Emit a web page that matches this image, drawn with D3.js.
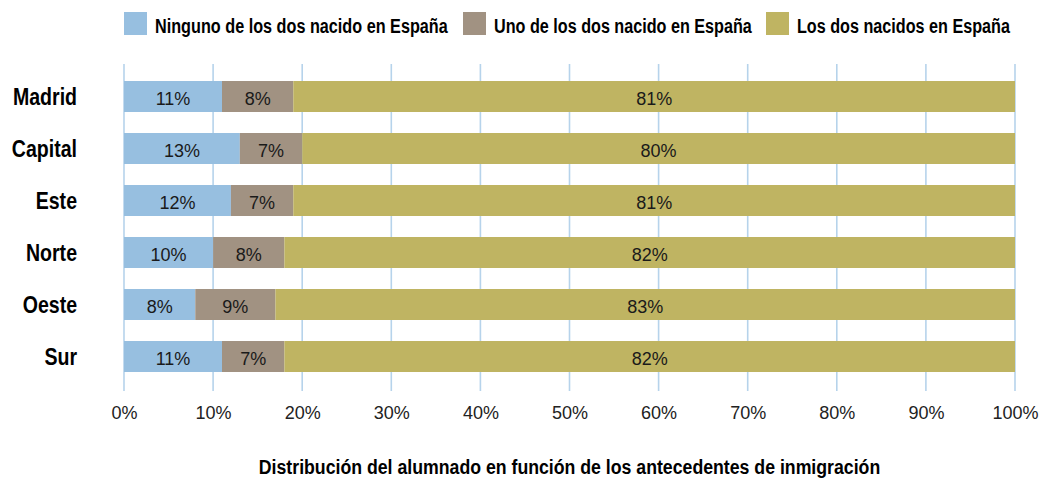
<!DOCTYPE html>
<html>
<head>
<meta charset="utf-8">
<script src="https://cdn.jsdelivr.net/npm/d3@7/dist/d3.min.js"></script>
<style>
  html, body { margin: 0; padding: 0; background: #ffffff; }
  svg { display: block; }
  text { font-family: "Liberation Sans", Arial, Helvetica, sans-serif; }
</style>
</head>
<body>
<svg id="chart" width="1040" height="479"></svg>
<script>
// Regions shown on the vertical axis
const regions = ["Madrid", "Capital", "Este", "Norte", "Oeste", "Sur"];

// Share of pupils (%) by parents' place of birth
const ningunoNacido = [11, 13, 12, 10, 8, 11];
const unoNacido     = [8, 7, 7, 8, 9, 7];
const losDosNacidos = [81, 80, 81, 82, 83, 82];

const seriesNames = [
  "Ninguno de los dos nacido en España",
  "Uno de los dos nacido en España",
  "Los dos nacidos en España"
];
const seriesColors = ["#97bfe0", "#a19282", "#bfb462"];

const xTicks = [0, 10, 20, 30, 40, 50, 60, 70, 80, 90, 100];
const axisTitle = "Distribución del alumnado en función de los antecedentes de inmigración";

const svg = d3.select("#chart");

const x = d3.scaleLinear().domain([0, 100]).range([124, 1015]);
const y = d3.scaleBand().domain(regions).range([70.6, 382.4])
  .paddingInner(0.404).paddingOuter(0.2);

// Squeeze a text horizontally so it spans the given width (condensed look)
function condense(sel, px, py, width) {
  sel.each(function (d, i) {
    const t = d3.select(this);
    const w = typeof width === "function" ? width(d, i) : width;
    const natural = this.getComputedTextLength();
    const k = natural > 0 ? w / natural : 1;
    const tx = typeof px === "function" ? px(d, i) : px;
    const ty = typeof py === "function" ? py(d, i) : py;
    t.attr("transform", `translate(${tx},${ty}) scale(${k},1)`);
  });
}

// Stacked layout built from the series arrays
const rows = regions.map((r, i) => ({
  region: r,
  s0: ningunoNacido[i],
  s1: unoNacido[i],
  s2: losDosNacidos[i]
}));
const stack = d3.stack().keys(["s0", "s1", "s2"]);
const layers = stack(rows);

// Vertical gridlines
svg.append("g")
  .selectAll("line")
  .data(xTicks)
  .join("line")
  .attr("x1", d => x(d)).attr("x2", d => x(d))
  .attr("y1", 64).attr("y2", 391)
  .attr("stroke", "#b6d3eb")
  .attr("stroke-width", 1.6);

// Bars
const layerG = svg.append("g")
  .selectAll("g")
  .data(layers)
  .join("g")
  .attr("fill", (d, i) => seriesColors[i]);

layerG.selectAll("rect")
  .data(d => d)
  .join("rect")
  .attr("x", d => x(d[0]))
  .attr("width", d => x(d[1]) - x(d[0]))
  .attr("y", d => y(d.data.region))
  .attr("height", y.bandwidth());

// Value labels inside segments
layerG.selectAll("text")
  .data(d => d)
  .join("text")
  .attr("x", d => (x(d[0]) + x(d[1])) / 2)
  .attr("y", d => y(d.data.region) + y.bandwidth() / 2 + 8.3)
  .attr("text-anchor", "middle")
  .attr("fill", "#1a1a1a")
  .attr("font-size", 18)
  .text(d => (d[1] - d[0]) + "%");

// Region labels (bold, horizontally condensed)
svg.append("g")
  .selectAll("text")
  .data(regions)
  .join("text")
  .attr("transform", d => `translate(77,${y(d) + y.bandwidth() / 2 + 8.5}) scale(0.85,1)`)
  .attr("text-anchor", "end")
  .attr("font-size", 23)
  .attr("font-weight", "bold")
  .attr("fill", "#000")
  .text(d => d);

// X axis tick labels
const xAxis = d3.axisBottom(x)
  .tickValues(xTicks)
  .tickSize(0)
  .tickPadding(0)
  .tickFormat(d => d + "%");
const axisG = svg.append("g")
  .attr("transform", "translate(0,406)")
  .call(xAxis);
axisG.select(".domain").remove();
axisG.selectAll("text")
  .attr("font-size", 18)
  .attr("fill", "#222")
  .attr("font-family", null);

// Axis title
svg.append("text")
  .attr("text-anchor", "middle")
  .attr("font-size", 21)
  .attr("font-weight", "bold")
  .attr("fill", "#000")
  .text(axisTitle)
  .call(condense, (x(0) + x(100)) / 2, 474, 622);

// Legend
const legendX = [124, 463, 766];
const legendTextW = [293, 258, 213];
const legend = svg.append("g")
  .selectAll("g")
  .data(seriesNames)
  .join("g")
  .attr("transform", (d, i) => `translate(${legendX[i]},12)`);
legend.append("rect")
  .attr("width", 23).attr("height", 23)
  .attr("fill", (d, i) => seriesColors[i]);
legend.append("text")
  .attr("font-size", 21)
  .attr("font-weight", "bold")
  .attr("fill", "#000")
  .text(d => d)
  .call(condense, 31, 20.5, (d, i) => legendTextW[i]);
</script>
</body>
</html>
